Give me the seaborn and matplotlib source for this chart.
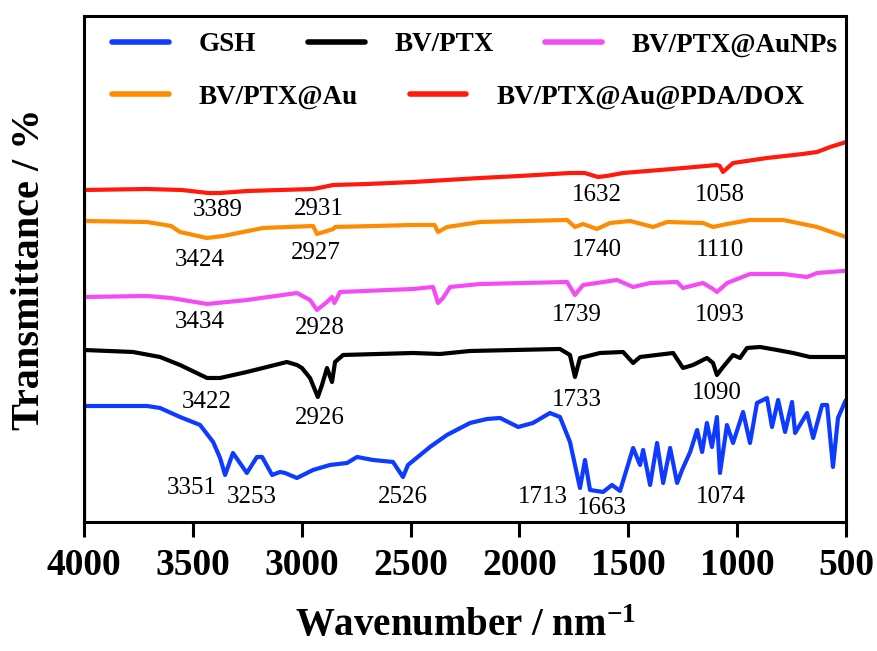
import numpy as np
import pandas as pd
import matplotlib
matplotlib.use("Agg")
import matplotlib.pyplot as plt
from matplotlib.lines import Line2D
import seaborn as sns

# FTIR spectra, values (offset transmittance, arbitrary units)
gsh_wn = [4000, 3711, 3651, 3559, 3467, 3407, 3375, 3352, 3316, 3252, 3206, 3182, 3136, 3100,
          3077, 3022, 2948, 2870, 2792, 2746, 2673, 2581, 2535, 2512, 2411, 2333, 2227, 2149,
          2089, 2006, 1938, 1860, 1814, 1768, 1722, 1699, 1676, 1616, 1575, 1538, 1478, 1446,
          1432, 1400, 1368, 1340, 1308, 1276, 1253, 1216, 1184, 1161, 1139, 1116, 1093, 1079,
          1047, 1019, 973, 941, 909, 863, 840, 812, 780, 748, 734, 679, 651, 610, 587, 560,
          537, 505, 500]
gsh_t = [116, 116, 114, 105, 97, 80, 64, 47, 69, 49, 65, 65, 47, 50,
         49, 44, 52, 57, 59, 65, 62, 60, 45, 57, 75, 87, 99, 103,
         104, 95, 99, 109, 105, 80, 34, 62, 32, 30, 37, 31, 74, 57,
         72, 37, 79, 39, 74, 39, 52, 70, 92, 70, 99, 75, 105, 49,
         97, 79, 110, 79, 119, 124, 95, 122, 90, 120, 89, 109, 84, 117, 117, 55,
         104, 120, 122]

bvptx_wn = [4000, 4000, 3775, 3651, 3559, 3435, 3375, 3252, 3068, 3022, 2999, 2962, 2926, 2907,
            2884, 2861, 2847, 2810, 2489, 2365, 2227, 1814, 1768, 1745, 1722, 1630, 1524, 1478,
            1446, 1294, 1249, 1203, 1139, 1111, 1093, 1065, 1019, 987, 955, 895, 817, 743, 666, 500]
bvptx_t = [2, 172, 170, 165, 157, 144, 144, 150, 160, 157, 154, 144, 125, 137,
           154, 140, 160, 167, 169, 168, 171, 173, 167, 145, 164, 169, 170, 159,
           165, 169, 154, 157, 164, 159, 147, 155, 167, 164, 174, 175, 172, 169, 165, 165]

aunps_wn = [4000, 4000, 3711, 3600, 3435, 3252, 3022, 2962, 2930, 2884, 2861, 2850, 2824, 2489,
            2397, 2374, 2351, 2319, 2181, 1781, 1745, 1708, 1552, 1478, 1400, 1276, 1249, 1157,
            1111, 1093, 1046, 941, 789, 679, 633, 514, 500]
aunps_t = [234, 225, 226, 224, 218, 222, 229, 222, 212, 220, 225, 219, 230, 233,
           235, 219, 224, 235, 238, 240, 227, 237, 242, 235, 239, 240, 234, 239,
           233, 230, 239, 248, 248, 245, 249, 251, 251]

au_wn = [4000, 4000, 3711, 3600, 3559, 3435, 3361, 3178, 2948, 2930, 2884, 2855, 2847, 2489,
         2390, 2374, 2333, 2181, 1781, 1745, 1708, 1644, 1584, 1492, 1386, 1322, 1157, 1111,
         1046, 941, 789, 633, 514, 500]
au_t = [175, 301, 300, 296, 290, 284, 286, 294, 296, 288, 291, 293, 295, 297,
        297, 290, 295, 300, 302, 295, 298, 293, 299, 301, 295, 300, 299, 295,
        298, 302, 302, 295, 286, 285]

dox_wn = [4000, 4000, 3711, 3550, 3430, 3375, 3250, 3100, 2948, 2900, 2856, 2700, 2489, 2181,
          2000, 1768, 1700, 1639, 1600, 1524, 1300, 1093, 1080, 1065, 1040, 1019, 863, 700,
          633, 573, 514, 500]
dox_t = [304, 332, 333, 332, 329, 329, 331, 332, 333, 335, 337, 338, 340, 344,
         346, 349, 349, 345, 346, 349, 353, 357, 356, 350, 355, 359, 364, 368,
         370, 375, 379, 380]

names = ["GSH", "BV/PTX", "BV/PTX@AuNPs", "BV/PTX@Au", "BV/PTX@Au@PDA/DOX"]
colors = ["#0D3BFF", "#000000", "#F54BF5", "#FF8C00", "#FF1A0D"]
series = [(gsh_wn, gsh_t), (bvptx_wn, bvptx_t), (aunps_wn, aunps_t), (au_wn, au_t), (dox_wn, dox_t)]

# peak labels: (wavenumber, y, text)
peak_labels = [
    (3504, 34, "3351"), (3228, 25, "3253"), (2535, 25, "2526"), (1892, 25, "1713"),
    (1621, 14, "1663"), (1074, 25, "1074"),
    (3435, 120, "3422"), (2916, 104, "2926"), (1736, 122, "1733"), (1092, 129, "1090"),
    (3467, 200, "3434"), (2916, 194, "2928"), (1736, 207, "1739"), (1079, 207, "1093"),
    (3467, 262, "3424"), (2934, 269, "2927"), (1644, 272, "1740"), (1079, 272, "1110"),
    (3385, 312, "3389"), (2921, 313, "2931"), (1644, 327, "1632"), (1079, 327, "1058"),
]

sns.set_style("ticks")
plt.rcParams["font.family"] = ["Liberation Serif", "DejaVu Serif"]
plt.rcParams["mathtext.fontset"] = "custom"
plt.rcParams["mathtext.rm"] = "Liberation Serif"
plt.rcParams["mathtext.bf"] = "Liberation Serif:bold"
for k in ["text.color", "axes.labelcolor", "xtick.color", "ytick.color", "axes.edgecolor"]:
    plt.rcParams[k] = "black"

fig = plt.figure(figsize=(8.77, 6.51), dpi=100)
ax = fig.add_axes([0.0958, 0.1982, 0.8689, 0.7772])

for (wn, t), c in zip(series, colors):
    sns.lineplot(x=wn, y=t, ax=ax, color=c, lw=3, sort=False, estimator=None)

for wn, y, s in peak_labels:
    ax.text(wn, y, s, fontsize=18, ha="center", va="center")

ax.set_xlim(4000, 500)
ax.set_ylim(0, 506)
ax.set_xticks(np.arange(4000, 499, -500))
ax.set_yticks([])
ax.tick_params(axis="x", direction="out", length=11, width=2.2, labelsize=27, pad=8)
for lab in ax.get_xticklabels():
    lab.set_fontweight("bold")
for sp in ax.spines.values():
    sp.set_linewidth(2.2)
    sp.set_visible(True)

ax.set_xlabel("Wavenumber / nm$\\mathbf{^{-1}}$", fontsize=28, fontweight="bold", labelpad=18)
ax.set_ylabel("Transmittance / %", fontsize=29, fontweight="bold", labelpad=26)

# legend in two rows, as in the figure
h = [Line2D([], [], color=c, lw=4) for c in colors]
common = dict(frameon=False, loc="center left", borderpad=0, borderaxespad=0,
              handlelength=2.1, handletextpad=1.1, columnspacing=1.9,
              prop={"weight": "bold", "size": 19.5})
leg1 = ax.legend(h[:3], names[:3], ncol=3, bbox_to_anchor=(0.037, 0.943), **common)
ax.add_artist(leg1)
ax.legend(h[3:], names[3:], ncol=2, bbox_to_anchor=(0.037, 0.840), **common)

fig.savefig("out.png", dpi=100)
